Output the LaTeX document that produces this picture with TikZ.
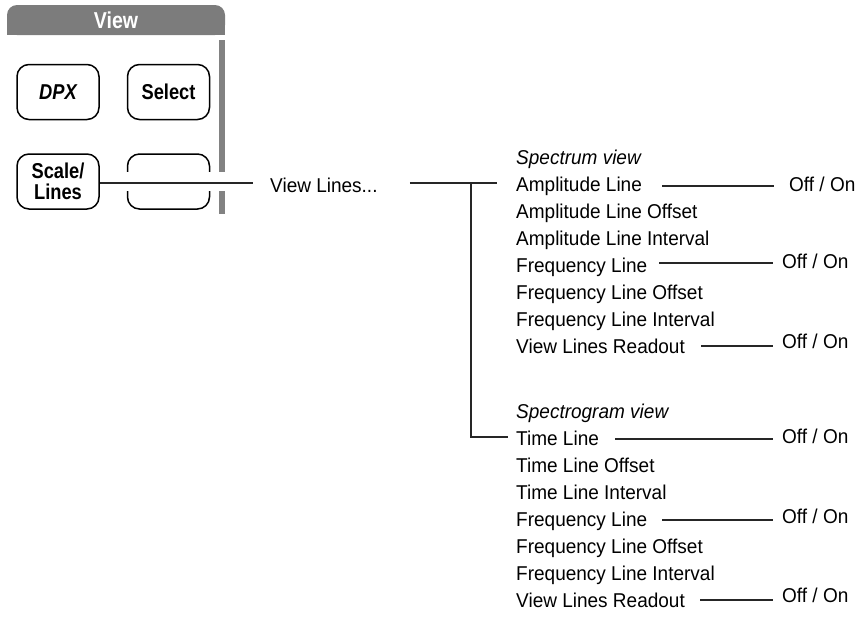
\documentclass[tikz,border=0pt]{standalone}
\usepackage{fontspec}
\setmainfont{Liberation Sans}[FakeStretch=0.95]
\newfontfamily\btnfont{Liberation Sans}[FakeStretch=0.85]
\usetikzlibrary{calc}
\definecolor{hdrgray}{HTML}{7C7C7C}
\definecolor{bargray}{HTML}{828282}
\definecolor{linegray}{HTML}{262626}
\begin{document}
\begin{tikzpicture}[x=1pt,y=-1pt,
  item/.style={anchor=base west, inner sep=0pt, font=\fontsize{20}{20}\selectfont},
  heading/.style={anchor=base west, inner sep=0pt, font=\fontsize{20}{20}\selectfont\itshape},
  offon/.style={anchor=base west, inner sep=0pt, font=\fontsize{20}{20}\selectfont},
  key/.style={draw=black, line width=1.5pt, rounded corners=12pt, minimum width=82pt,
    minimum height=55pt, inner sep=0pt, align=center,
    font=\btnfont\bfseries\fontsize{21.5}{21}\selectfont},
  conn/.style={draw=linegray, line width=1.2pt},
]
\useasboundingbox (0,0) rectangle (862,616);

% header
\fill[hdrgray, rounded corners=10pt] (7,5) rectangle (225,35);
\fill[hdrgray] (7,20) rectangle (225,35);
\node[anchor=base, inner sep=0pt, text=white, font=\btnfont\bfseries\fontsize{23}{23}\selectfont] (view) at (116,28) {View};

% side bar
\fill[bargray] (219,40) rectangle (225,214);

% keys
\node[key] (dpx) at (58,92) {\itshape DPX};
\node[key] (sel) at (168.5,92) {Select};
\node[key] (scl) at (58,181.5) {Scale/\\Lines};
\node[key] (def) at (168.5,181.5) {};
\fill[white] (124,172) rectangle (228,191);

% menu
\node[item] (vl) at (270,192) {View Lines...};

\node[heading] (s0) at (516,164) {Spectrum view};
\node[item] (a1) at (516,191) {Amplitude Line};
\node[item] (a2) at (516,218) {Amplitude Line Offset};
\node[item] (a3) at (516,245) {Amplitude Line Interval};
\node[item] (a4) at (516,272) {Frequency Line};
\node[item] (a5) at (516,299) {Frequency Line Offset};
\node[item] (a6) at (516,326) {Frequency Line Interval};
\node[item] (a7) at (516,353) {View Lines Readout};

\node[heading] (g0) at (516,418) {Spectrogram view};
\node[item] (t1) at (516,445) {Time Line};
\node[item] (t2) at (516,472) {Time Line Offset};
\node[item] (t3) at (516,499) {Time Line Interval};
\node[item] (t4) at (516,526) {Frequency Line};
\node[item] (t5) at (516,553) {Frequency Line Offset};
\node[item] (t6) at (516,580) {Frequency Line Interval};
\node[item] (t7) at (516,607) {View Lines Readout};

\node[offon] (o1) at (789,191) {Off / On};
\node[offon] (o2) at (782,268) {Off / On};
\node[offon] (o3) at (782,348) {Off / On};
\node[offon] (o4) at (782,443) {Off / On};
\node[offon] (o5) at (782,523) {Off / On};
\node[offon] (o6) at (782,602) {Off / On};

% connectors
\coordinate (j1) at (471,183);
\coordinate (j2) at (471,437);
\draw[conn] (scl.east |- j1) -- ($(vl.west |- j1)+(-17,0)$);
\draw[conn] ($(vl.east |- j1)+(32,0)$) -- ($(a1.west |- j1)+(-19,0)$);
\draw[conn] (j1) -- (j2) -- ($(t1.west |- j2)+(-8,0)$);

\draw[conn] ([shift={(20,-5)}]a1.base east) coordinate (l1) -- ($(l1 -| o1.west)+(-15,0)$);
\draw[conn] ([shift={(12,-9)}]a4.base east) coordinate (l2) -- ($(l2 -| o2.west)+(-9,0)$);
\draw[conn] ([shift={(16,-7)}]a7.base east) coordinate (l3) -- ($(l3 -| o3.west)+(-9,0)$);
\draw[conn] ([shift={(16,-6)}]t1.base east) coordinate (l4) -- ($(l4 -| o4.west)+(-9,0)$);
\draw[conn] ([shift={(15,-6)}]t4.base east) coordinate (l5) -- ($(l5 -| o5.west)+(-9,0)$);
\draw[conn] ([shift={(15,-7)}]t7.base east) coordinate (l6) -- ($(l6 -| o6.west)+(-9,0)$);
\end{tikzpicture}
\end{document}
